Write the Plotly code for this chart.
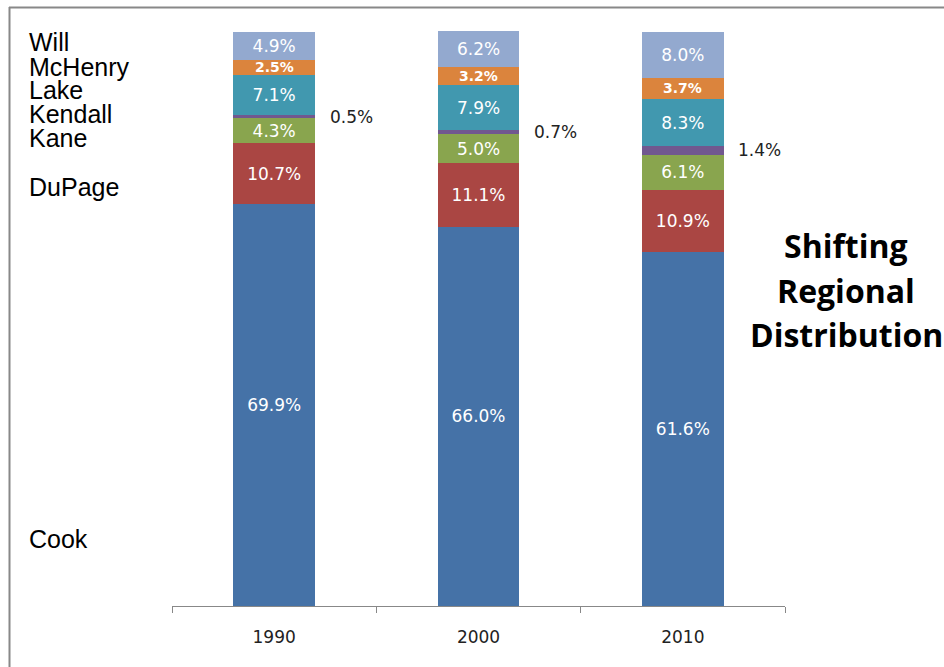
import plotly.graph_objects as go

years = ["1990", "2000", "2010"]
counties = ["Cook", "DuPage", "Kane", "Kendall", "Lake", "McHenry", "Will"]
cook = [69.9, 66.0, 61.6]
dupage = [10.7, 11.1, 10.9]
kane = [4.3, 5.0, 6.1]
kendall = [0.5, 0.7, 1.4]
lake = [7.1, 7.9, 8.3]
mchenry = [2.5, 3.2, 3.7]
will = [4.9, 6.2, 8.0]
colors = ["#4572A7", "#AA4643", "#89A54E", "#71588F", "#4198AF", "#DB843D", "#93A9CF"]
title_lines = ["Shifting", "Regional", "Distribution"]

series = [cook, dupage, kane, kendall, lake, mchenry, will]

# layout geometry (pixels)
L, R, T, B = 172, 785, 31, 606
W, H = R - L, B - T


def px(x):
    return (x - L) / W


def py(y):
    return (B - y) / H


fig = go.Figure()
for name, vals, col in zip(counties, series, colors):
    no_inside = name in ("Kendall", "McHenry")
    fig.add_trace(go.Bar(
        x=years, y=vals, name=name,
        marker=dict(color=col, line=dict(width=0)),
        text=None if no_inside else [f"{v:.1f}%" for v in vals],
        textposition="none" if no_inside else "inside",
        insidetextanchor="middle",
        textangle=0,
        constraintext="none",
        insidetextfont=dict(color="white", size=17, family="DejaVu Sans"),
        hoverinfo="skip",
    ))

# cumulative bases
base_kendall = [a + b + c for a, b, c in zip(cook, dupage, kane)]
base_mchenry = [a + b + c + d for a, b, c, d in zip(base_kendall, kendall, lake, [0, 0, 0])]

# Kendall labels outside to the right
for i, (b0, v) in enumerate(zip(base_kendall, kendall)):
    fig.add_annotation(xref="x", yref="y", x=i, y=b0 + v / 2, text=f"{v:.1f}%",
                       showarrow=False, xshift=77,
                       font=dict(size=17, color="#222222", family="DejaVu Sans"))

# McHenry labels inside the thin segment
for i, (b0, v) in enumerate(zip(base_mchenry, mchenry)):
    fig.add_annotation(xref="x", yref="y", x=i, y=b0 + v / 2, text=f"<b>{v:.1f}%</b>",
                       showarrow=False,
                       font=dict(size=14, color="white", family="DejaVu Sans"))

# County labels on the left
label_pos = {"Will": 42, "McHenry": 67, "Lake": 90, "Kendall": 114,
             "Kane": 138, "DuPage": 187, "Cook": 539}
for name in counties:
    fig.add_annotation(xref="paper", yref="paper", x=px(27), y=py(label_pos[name]),
                       xanchor="left", yanchor="middle", text=name, showarrow=False,
                       font=dict(size=25, color="black", family="Liberation Sans"))

# Title on the right
for line, yy in zip(title_lines, [246, 290, 334]):
    fig.add_annotation(xref="paper", yref="paper", x=px(846), y=py(yy),
                       xanchor="center", yanchor="middle", text=f"<b>{line}</b>",
                       showarrow=False,
                       font=dict(size=32, color="black", family="Open Sans"))

# Chart border (left and top)
fig.add_shape(type="line", xref="paper", yref="paper", x0=px(9.5), x1=px(9.5),
              y0=py(7), y1=py(700), line=dict(color="#888888", width=2))
fig.add_shape(type="line", xref="paper", yref="paper", x0=px(9), x1=px(1000),
              y0=py(7.5), y1=py(7.5), line=dict(color="#888888", width=2))

fig.update_layout(
    barmode="stack",
    bargap=0.6,
    width=944, height=667,
    margin=dict(l=L, r=944 - R, t=T, b=667 - B),
    plot_bgcolor="white", paper_bgcolor="white",
    showlegend=False,
    xaxis=dict(type="category", categoryorder="array", categoryarray=years,
               range=[-0.5, 2.5], showline=True, linecolor="#888888", linewidth=1,
               ticks="outside", tickson="boundaries", ticklen=6, tickcolor="#888888",
               tickfont=dict(size=17, color="#222222", family="DejaVu Sans"),
               ticklabelstandoff=16, showgrid=False, zeroline=False, automargin=False),
    yaxis=dict(visible=False, range=[0, 100.1], showgrid=False, zeroline=False,
               automargin=False),
)

fig.write_html("out.html")
